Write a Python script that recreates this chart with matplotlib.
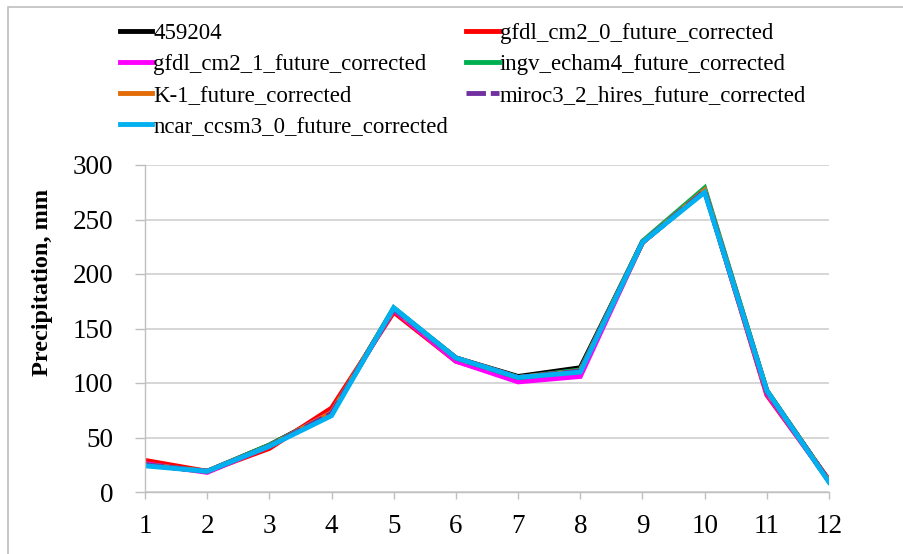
import matplotlib
matplotlib.use("Agg")
import matplotlib.pyplot as plt
from matplotlib.patches import Rectangle

months = [1, 2, 3, 4, 5, 6, 7, 8, 9, 10, 11, 12]
s_459204 = [25, 19, 43, 73, 168, 123, 106, 114, 229, 277, 93, 10]
s_gfdl_cm2_0 = [29, 19, 40, 77, 165, 120, 103, 109, 229, 277, 89, 11]
s_gfdl_cm2_1 = [26, 18, 42, 73, 167, 120, 101, 106, 229, 277, 90, 10]
s_ingv_echam4 = [25, 19, 43, 72, 169, 123, 105, 112, 230, 279, 93, 10]
s_k1 = [25, 19, 42, 73, 168, 123, 105, 111, 229, 277, 92, 10]
s_miroc3_2_hires = [25, 19, 42, 72, 168, 123, 105, 111, 229, 276, 92, 10]
s_ncar_ccsm3_0 = [24, 19, 42, 70, 169, 123, 105, 110, 229, 275, 93, 9]

labels = ["459204", "gfdl_cm2_0_future_corrected", "gfdl_cm2_1_future_corrected",
          "ingv_echam4_future_corrected", "K-1_future_corrected",
          "miroc3_2_hires_future_corrected", "ncar_ccsm3_0_future_corrected"]
series = [s_459204, s_gfdl_cm2_0, s_gfdl_cm2_1, s_ingv_echam4, s_k1,
          s_miroc3_2_hires, s_ncar_ccsm3_0]
colors = ["#000000", "#FF0000", "#FF00FF", "#00B050", "#E36C09", "#7030A0", "#00B0F0"]

plt.rcParams['font.family'] = ['Liberation Serif', 'DejaVu Serif']

fig = plt.figure(figsize=(9.04, 5.54), dpi=100)
ax = fig.add_axes([145/904, 1-492/554, (829-145)/904, (492-165)/554])

lines = []
for lab, ys, c in zip(labels, series, colors):
    kw = {}
    if lab.startswith("miroc"):
        kw = dict(dashes=(4, 1.0))
    ln, = ax.plot(months, ys, color=c, lw=3.5, label=lab, solid_joinstyle='miter', **kw)
    lines.append(ln)

ax.set_xlim(1, 12)
ax.set_ylim(0, 300)
ax.set_xticks(months)
ax.set_yticks(range(0, 301, 50))
ax.grid(axis='y', color='#D0D0D0', lw=1.2)
ax.set_axisbelow(True)
for s in ['top', 'right']:
    ax.spines[s].set_visible(False)
for s in ['left', 'bottom']:
    ax.spines[s].set_color('#BFBFBF')
    ax.spines[s].set_linewidth(1.0)
ax.tick_params(axis='both', colors='#BFBFBF', labelcolor='black', labelsize=19.5,
               width=1.0, direction='out')
ax.tick_params(axis='x', length=5, pad=11)
ax.tick_params(axis='y', length=7, pad=16)
ax.set_ylabel("Precipitation, mm", fontsize=17.5, fontweight='bold')
ax.yaxis.set_label_coords(-0.135, 0.64)

order = [0, 2, 4, 6, 1, 3, 5]
leg = fig.legend(handles=[lines[i] for i in order], loc='upper left',
                 bbox_to_anchor=(120/904, 1-23/554),
                 ncol=2, frameon=False, fontsize=16.5, handlelength=1.4,
                 handletextpad=0.05, columnspacing=0.8, labelspacing=0.43,
                 borderaxespad=0, borderpad=0)

fig.patches.append(Rectangle((8/904, -0.1), 1.2, 1 + 0.1 - 7/554, transform=fig.transFigure,
                             fill=False, edgecolor='#BFBFBF', lw=1.2))

fig.savefig("out.png", dpi=100)
